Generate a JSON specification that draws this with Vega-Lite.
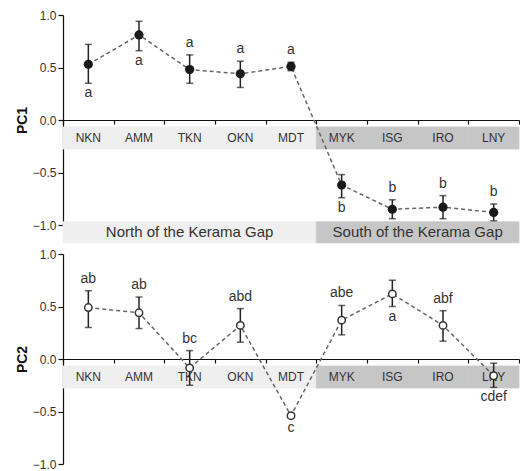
{
  "$schema": "https://vega.github.io/schema/vega-lite/v6.json",
  "padding": {"top": 9, "left": 15, "right": 0, "bottom": 0},
  "background": "white",
  "config": {
    "view": {"stroke": null},
    "font": "Liberation Sans",
    "axis": {"grid": false, "domainColor": "#111", "tickColor": "#111", "labelColor": "#333", "labelFont": "Liberation Sans", "titleFont": "Liberation Sans"}
  },
  "datasets": {
    "pc": [
      {"pc": "PC1", "site": "NKN", "region": "North", "mean": 0.53, "lo": 0.35, "hi": 0.72, "letters": "a", "pos": "below"},
      {"pc": "PC1", "site": "AMM", "region": "North", "mean": 0.81, "lo": 0.66, "hi": 0.94, "letters": "a", "pos": "below"},
      {"pc": "PC1", "site": "TKN", "region": "North", "mean": 0.48, "lo": 0.35, "hi": 0.62, "letters": "a", "pos": "above"},
      {"pc": "PC1", "site": "OKN", "region": "North", "mean": 0.44, "lo": 0.31, "hi": 0.56, "letters": "a", "pos": "above"},
      {"pc": "PC1", "site": "MDT", "region": "North", "mean": 0.51, "lo": 0.47, "hi": 0.55, "letters": "a", "pos": "above"},
      {"pc": "PC1", "site": "MYK", "region": "South", "mean": -0.62, "lo": -0.74, "hi": -0.52, "letters": "b", "pos": "below"},
      {"pc": "PC1", "site": "ISG", "region": "South", "mean": -0.85, "lo": -0.94, "hi": -0.76, "letters": "b", "pos": "above"},
      {"pc": "PC1", "site": "IRO", "region": "South", "mean": -0.83, "lo": -0.94, "hi": -0.72, "letters": "b", "pos": "above"},
      {"pc": "PC1", "site": "LNY", "region": "South", "mean": -0.88, "lo": -0.96, "hi": -0.80, "letters": "b", "pos": "above"},
      {"pc": "PC2", "site": "NKN", "region": "North", "mean": 0.49, "lo": 0.30, "hi": 0.65, "letters": "ab", "pos": "above"},
      {"pc": "PC2", "site": "AMM", "region": "North", "mean": 0.44, "lo": 0.29, "hi": 0.59, "letters": "ab", "pos": "above"},
      {"pc": "PC2", "site": "TKN", "region": "North", "mean": -0.085, "lo": -0.25, "hi": 0.08, "letters": "bc", "pos": "above"},
      {"pc": "PC2", "site": "OKN", "region": "North", "mean": 0.32, "lo": 0.16, "hi": 0.48, "letters": "abd", "pos": "above"},
      {"pc": "PC2", "site": "MDT", "region": "North", "mean": -0.54, "lo": -0.56, "hi": -0.52, "letters": "c", "pos": "below"},
      {"pc": "PC2", "site": "MYK", "region": "South", "mean": 0.37, "lo": 0.23, "hi": 0.51, "letters": "abe", "pos": "above"},
      {"pc": "PC2", "site": "ISG", "region": "South", "mean": 0.62, "lo": 0.50, "hi": 0.75, "letters": "a", "pos": "below"},
      {"pc": "PC2", "site": "IRO", "region": "South", "mean": 0.32, "lo": 0.17, "hi": 0.46, "letters": "abf", "pos": "above"},
      {"pc": "PC2", "site": "LNY", "region": "South", "mean": -0.16, "lo": -0.27, "hi": -0.04, "letters": "cdef", "pos": "below"}
    ],
    "bands": [
      {"site": "NKN", "region": "North", "top": -0.067, "bottom": -0.276, "rtop": -0.97, "rbottom": -1.17},
      {"site": "AMM", "region": "North", "top": -0.067, "bottom": -0.276, "rtop": -0.97, "rbottom": -1.17},
      {"site": "TKN", "region": "North", "top": -0.067, "bottom": -0.276, "rtop": -0.97, "rbottom": -1.17},
      {"site": "OKN", "region": "North", "top": -0.067, "bottom": -0.276, "rtop": -0.97, "rbottom": -1.17},
      {"site": "MDT", "region": "North", "top": -0.067, "bottom": -0.276, "rtop": -0.97, "rbottom": -1.17},
      {"site": "MYK", "region": "South", "top": -0.067, "bottom": -0.276, "rtop": -0.97, "rbottom": -1.17},
      {"site": "ISG", "region": "South", "top": -0.067, "bottom": -0.276, "rtop": -0.97, "rbottom": -1.17},
      {"site": "IRO", "region": "South", "top": -0.067, "bottom": -0.276, "rtop": -0.97, "rbottom": -1.17},
      {"site": "LNY", "region": "South", "top": -0.067, "bottom": -0.276, "rtop": -0.97, "rbottom": -1.17}
    ],
    "regions": [
      {"label": "North of the Kerama Gap", "site": "TKN", "region": "North", "y": -1.07},
      {"label": "South of the Kerama Gap", "site": "ISG", "region": "South", "y": -1.07}
    ]
  },
  "vconcat": [
    {
      "width": 456, "height": 210,
      "encoding": {
        "x": {"field": "site", "type": "nominal",
              "scale": {"domain": ["NKN","AMM","TKN","OKN","MDT","MYK","ISG","IRO","LNY"], "paddingInner": 0, "paddingOuter": 0},
              "axis": {"orient": "bottom", "offset": -105, "title": null, "labels": false, "tickBand": "extent", "tickSize": 4, "domainWidth": 1.2, "tickWidth": 1.2}}
      },
      "layer": [
        {"data": {"name": "bands"}, "mark": {"type": "bar", "width": {"band": 1}, "strokeWidth": 0.8},
         "encoding": {"y": {"field": "top", "type": "quantitative", "scale": {"domain": [-1, 1], "nice": false, "zero": false},
                            "axis": {"title": "PC1", "values": [-1, -0.5, 0, 0.5, 1], "format": ".1f", "titleFontSize": 14, "titleFontWeight": "bold", "titleColor": "#111", "titlePadding": 3, "labelFontSize": 12, "tickSize": 5, "labelPadding": 2, "domainWidth": 1.2, "tickWidth": 1.2}},
                      "y2": {"field": "bottom"},
                      "color": {"field": "region", "type": "nominal", "scale": {"domain": ["North", "South"], "range": ["#efefef", "#c6c6c6"]}, "legend": null},
                      "stroke": {"field": "region", "type": "nominal", "scale": {"domain": ["North", "South"], "range": ["#efefef", "#c6c6c6"]}, "legend": null}}},
        {"data": {"name": "bands"}, "mark": {"type": "bar", "width": {"band": 1}, "strokeWidth": 0.8},
         "encoding": {"y": {"field": "rtop", "type": "quantitative"}, "y2": {"field": "rbottom"},
                      "color": {"field": "region", "type": "nominal", "legend": null},
                      "stroke": {"field": "region", "type": "nominal", "legend": null}}},
        {"data": {"name": "bands"}, "mark": {"type": "text", "fontSize": 12, "color": "#333"},
         "encoding": {"y": {"datum": -0.17, "type": "quantitative"}, "text": {"field": "site"}}},
        {"data": {"name": "regions"}, "transform": [{"filter": "datum.region === 'North'"}],
         "mark": {"type": "text", "fontSize": 15, "color": "#333"},
         "encoding": {"x": {"field": "site", "type": "nominal", "bandPosition": 0.5}, "y": {"field": "y", "type": "quantitative"}, "text": {"field": "label"}}},
        {"data": {"name": "regions"}, "transform": [{"filter": "datum.region === 'South'"}],
         "mark": {"type": "text", "fontSize": 15, "color": "#333"},
         "encoding": {"x": {"field": "site", "type": "nominal", "bandPosition": 1}, "y": {"field": "y", "type": "quantitative"}, "text": {"field": "label"}}},
        {"data": {"name": "pc"}, "transform": [{"filter": "datum.pc === 'PC1'"}],
         "mark": {"type": "line", "strokeDash": [4, 3], "strokeWidth": 1.5, "color": "#666"},
         "encoding": {"y": {"field": "mean", "type": "quantitative"}}},
        {"data": {"name": "pc"}, "transform": [{"filter": "datum.pc === 'PC1'"}],
         "mark": {"type": "rule", "strokeWidth": 1.5, "color": "#222"},
         "encoding": {"y": {"field": "lo", "type": "quantitative"}, "y2": {"field": "hi"}}},
        {"data": {"name": "pc"}, "transform": [{"filter": "datum.pc === 'PC1'"}],
         "mark": {"type": "tick", "orient": "horizontal", "size": 7, "thickness": 1.5, "color": "#222"},
         "encoding": {"y": {"field": "lo", "type": "quantitative"}}},
        {"data": {"name": "pc"}, "transform": [{"filter": "datum.pc === 'PC1'"}],
         "mark": {"type": "tick", "orient": "horizontal", "size": 7, "thickness": 1.5, "color": "#222"},
         "encoding": {"y": {"field": "hi", "type": "quantitative"}}},
        {"data": {"name": "pc"}, "transform": [{"filter": "datum.pc === 'PC1'"}],
         "mark": {"type": "point", "filled": true, "size": 85, "color": "#1a1a1a", "opacity": 1},
         "encoding": {"y": {"field": "mean", "type": "quantitative"}}},
        {"data": {"name": "pc"}, "transform": [{"filter": "datum.pc === 'PC1' && datum.pos === 'above'"}],
         "mark": {"type": "text", "fontSize": 14, "color": "#333", "baseline": "alphabetic", "dy": -8},
         "encoding": {"y": {"field": "hi", "type": "quantitative"}, "text": {"field": "letters"}}},
        {"data": {"name": "pc"}, "transform": [{"filter": "datum.pc === 'PC1' && datum.pos === 'below'"}],
         "mark": {"type": "text", "fontSize": 14, "color": "#333", "baseline": "top", "dy": 3},
         "encoding": {"y": {"field": "lo", "type": "quantitative"}, "text": {"field": "letters"}}}
      ]
    },
    {
      "width": 456, "height": 210,
      "encoding": {
        "x": {"field": "site", "type": "nominal",
              "scale": {"domain": ["NKN","AMM","TKN","OKN","MDT","MYK","ISG","IRO","LNY"], "paddingInner": 0, "paddingOuter": 0},
              "axis": {"orient": "bottom", "offset": -105, "title": null, "labels": false, "tickBand": "extent", "tickSize": 4, "domainWidth": 1.2, "tickWidth": 1.2}}
      },
      "layer": [
        {"data": {"name": "bands"}, "mark": {"type": "bar", "width": {"band": 1}, "strokeWidth": 0.8},
         "encoding": {"y": {"field": "top", "type": "quantitative", "scale": {"domain": [-1, 1], "nice": false, "zero": false},
                            "axis": {"title": "PC2", "values": [-1, -0.5, 0, 0.5, 1], "format": ".1f", "titleFontSize": 14, "titleFontWeight": "bold", "titleColor": "#111", "titlePadding": 3, "labelFontSize": 12, "tickSize": 5, "labelPadding": 2, "domainWidth": 1.2, "tickWidth": 1.2}},
                      "y2": {"field": "bottom"},
                      "color": {"field": "region", "type": "nominal", "scale": {"domain": ["North", "South"], "range": ["#efefef", "#c6c6c6"]}, "legend": null},
                      "stroke": {"field": "region", "type": "nominal", "scale": {"domain": ["North", "South"], "range": ["#efefef", "#c6c6c6"]}, "legend": null}}},
        {"data": {"name": "bands"}, "mark": {"type": "text", "fontSize": 12, "color": "#333"},
         "encoding": {"y": {"datum": -0.17, "type": "quantitative"}, "text": {"field": "site"}}},
        {"data": {"name": "pc"}, "transform": [{"filter": "datum.pc === 'PC2'"}],
         "mark": {"type": "line", "strokeDash": [4, 3], "strokeWidth": 1.5, "color": "#666"},
         "encoding": {"y": {"field": "mean", "type": "quantitative"}}},
        {"data": {"name": "pc"}, "transform": [{"filter": "datum.pc === 'PC2'"}],
         "mark": {"type": "rule", "strokeWidth": 1.5, "color": "#222"},
         "encoding": {"y": {"field": "lo", "type": "quantitative"}, "y2": {"field": "hi"}}},
        {"data": {"name": "pc"}, "transform": [{"filter": "datum.pc === 'PC2'"}],
         "mark": {"type": "tick", "orient": "horizontal", "size": 7, "thickness": 1.5, "color": "#222"},
         "encoding": {"y": {"field": "lo", "type": "quantitative"}}},
        {"data": {"name": "pc"}, "transform": [{"filter": "datum.pc === 'PC2'"}],
         "mark": {"type": "tick", "orient": "horizontal", "size": 7, "thickness": 1.5, "color": "#222"},
         "encoding": {"y": {"field": "hi", "type": "quantitative"}}},
        {"data": {"name": "pc"}, "transform": [{"filter": "datum.pc === 'PC2'"}],
         "mark": {"type": "point", "filled": false, "fill": "white", "fillOpacity": 1, "size": 55, "stroke": "#333", "strokeWidth": 1.5, "opacity": 1},
         "encoding": {"y": {"field": "mean", "type": "quantitative"}}},
        {"data": {"name": "pc"}, "transform": [{"filter": "datum.pc === 'PC2' && datum.pos === 'above'"}],
         "mark": {"type": "text", "fontSize": 14, "color": "#333", "baseline": "alphabetic", "dy": -8},
         "encoding": {"y": {"field": "hi", "type": "quantitative"}, "text": {"field": "letters"}}},
        {"data": {"name": "pc"}, "transform": [{"filter": "datum.pc === 'PC2' && datum.pos === 'below'"}],
         "mark": {"type": "text", "fontSize": 14, "color": "#333", "baseline": "top", "dy": 3},
         "encoding": {"y": {"field": "lo", "type": "quantitative"}, "text": {"field": "letters"}}}
      ]
    }
  ],
  "spacing": 29,
  "bounds": "flush"
}
